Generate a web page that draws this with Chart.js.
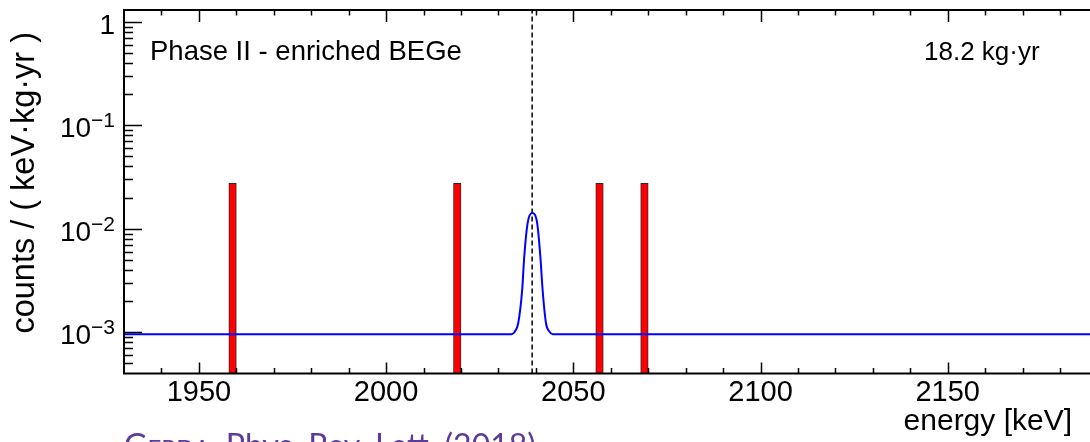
<!DOCTYPE html>
<html>
<head>
<meta charset="utf-8">
<script src="https://cdn.jsdelivr.net/npm/chart.js@4.4.1/dist/chart.umd.min.js"></script>
<style>
  html, body { margin: 0; padding: 0; background: #fff; overflow: hidden; }
  #wrap { position: relative; width: 1090px; height: 442px; }
</style>
</head>
<body>
<div id="wrap"><canvas id="spettro"></canvas></div>
<script>
// assi
const xMin = 1930, xMax = 2188;
const yMin = 4e-4, yMax = 1.3;
const xTickValues = [1950, 2000, 2050, 2100, 2150];
const yTickValues = [1e-3, 1e-2, 1e-1, 1];
const yTickBase = ['10', '10', '10', '1'];
const yTickExp = ['\u22123', '\u22122', '\u22121', ''];

// eventi osservati (bin da 2 keV)
const eventEnergies = [1959, 2019, 2057, 2069];
const eventRates = [0.0275, 0.0275, 0.0275, 0.0275];

// curva del fit
const fitEnergies = [1930, 2033.5, 2034.4, 2035.3, 2036.35, 2036.9, 2037.8, 2039.0, 2040.35, 2041.2, 2041.8, 2042.7, 2043.6, 2044.5, 2188];
const fitRates = [0.00096, 0.00096, 0.00102, 0.00123, 0.00258, 0.0054, 0.01136, 0.0142, 0.01136, 0.0054, 0.00258, 0.00123, 0.00102, 0.00096, 0.00096];

// Q-value
const qbb = 2039;

const FONT = '"Liberation Sans", Arial, Helvetica, sans-serif';

// cornice, tacche e testi stile ROOT
const cornice = {
    id: 'cornice',
    afterDraw(chart) {
        const ctx = chart.ctx;
        const a = chart.chartArea;
        const xs = chart.scales.x, ys = chart.scales.y;
        ctx.save();
        ctx.strokeStyle = '#000';
        ctx.lineWidth = 2;
        ctx.beginPath();
        ctx.moveTo(a.right + 5, a.top);
        ctx.lineTo(a.left, a.top);
        ctx.lineTo(a.left, a.bottom);
        ctx.lineTo(a.right + 5, a.bottom);
        ctx.stroke();

        // tacche asse x (sotto e sopra)
        ctx.lineWidth = 1.5;
        ctx.beginPath();
        for (let e = xMin + 10; e <= xMax; e += 10) {
            const px = Math.round(xs.getPixelForValue(e)) + 0.5;
            const major = e % 50 === 0;
            ctx.moveTo(px, a.bottom);
            ctx.lineTo(px, a.bottom - (major ? 11 : 5.5));
            ctx.moveTo(px, a.top);
            ctx.lineTo(px, a.top + (major ? 12 : 5.5));
        }
        // tacche asse y
        for (let d = -4; d <= 0; d++) {
            for (let m = 1; m <= 9; m++) {
                const v = m * Math.pow(10, d);
                if (v <= yMin || v > yMax) continue;
                const py = Math.round(ys.getPixelForValue(v)) + 0.5;
                ctx.moveTo(a.left, py);
                ctx.lineTo(a.left + (m === 1 ? 18 : 9), py);
            }
        }
        ctx.stroke();

        // etichette asse y
        ctx.fillStyle = '#000';
        ctx.textBaseline = 'alphabetic';
        ctx.textAlign = 'right';
        yTickValues.forEach(function (v, i) {
            const py = ys.getPixelForValue(v);
            let xr = 115;
            if (yTickExp[i] !== '') {
                ctx.font = '21px ' + FONT;
                ctx.fillText(yTickExp[i], xr, py + 2);
                xr -= ctx.measureText(yTickExp[i]).width;
            }
            ctx.font = '28px ' + FONT;
            ctx.fillText(yTickBase[i], xr, py + 12);
        });

        // titolo asse y
        ctx.save();
        ctx.translate(34, 32);
        ctx.rotate(-Math.PI / 2);
        ctx.textAlign = 'right';
        ctx.font = '32.5px ' + FONT;
        ctx.fillText('counts / ( keV\u00b7kg\u00b7yr )', 0, 0);
        ctx.restore();

        // titolo asse x
        ctx.textAlign = 'right';
        ctx.font = '30px ' + FONT;
        ctx.fillText('energy [keV]', 1072, 430);

        // annotazioni
        ctx.textAlign = 'left';
        ctx.font = '27.5px ' + FONT;
        ctx.fillText('Phase II - enriched BEGe', 150, 60);
        ctx.font = '26px ' + FONT;
        ctx.fillText('18.2 kg\u00b7yr', 924, 60);

        // riferimento
        ctx.fillStyle = '#5b3c9a';
        let fx = 124;
        const parti = [['G', 32], ['ERDA', 24], [', Phys. Rev. Lett. (2018)', 32]];
        parti.forEach(function (p) {
            ctx.font = p[1] + 'px Lato, "Open Sans", sans-serif';
            ctx.fillText(p[0], fx, 457);
            fx += ctx.measureText(p[0]).width;
        });
        ctx.restore();
    }
};

new Chart(document.getElementById('spettro'), {
    type: 'bar',
    data: {
        datasets: [{
            type: 'line',
            data: fitEnergies.map((e, i) => ({ x: e, y: fitRates[i] })),
            borderColor: '#0000ff',
            borderWidth: 2,
            pointRadius: 0,
            fill: false,
            cubicInterpolationMode: 'monotone',
            order: 0
        }, {
            type: 'line',
            data: [{ x: qbb, y: yMin }, { x: qbb, y: yMax }],
            borderColor: '#000',
            borderWidth: 1.5,
            borderDash: [5, 3],
            pointRadius: 0,
            fill: false,
            order: 1
        }, {
            type: 'bar',
            data: eventEnergies.map((e, i) => ({ x: e, y: eventRates[i] })),
            backgroundColor: '#ff0000',
            borderColor: '#2a2a2a',
            borderWidth: 1,
            barThickness: 7.5,
            grouped: false,
            order: 2
        }]
    },
    options: {
        responsive: true,
        maintainAspectRatio: false,
        animation: false,
        layout: { padding: { top: 10, left: 124, right: 0, bottom: 0 } },
        plugins: {
            legend: { display: false },
            tooltip: { enabled: false }
        },
        scales: {
            x: {
                type: 'linear',
                min: xMin,
                max: xMax,
                offset: false,
                afterBuildTicks: function (scale) {
                    scale.ticks = xTickValues.map(v => ({ value: v }));
                },
                afterFit: function (scale) { scale.height = 68.5; },
                grid: { display: false, drawTicks: false },
                border: { display: false },
                ticks: {
                    autoSkip: false,
                    maxRotation: 0,
                    padding: 2,
                    color: '#000',
                    font: { family: FONT, size: 29 },
                    callback: function (value) { return String(value); }
                }
            },
            y: {
                type: 'logarithmic',
                min: yMin,
                max: yMax,
                display: false
            }
        }
    },
    plugins: [cornice]
});
</script>
</body>
</html>
